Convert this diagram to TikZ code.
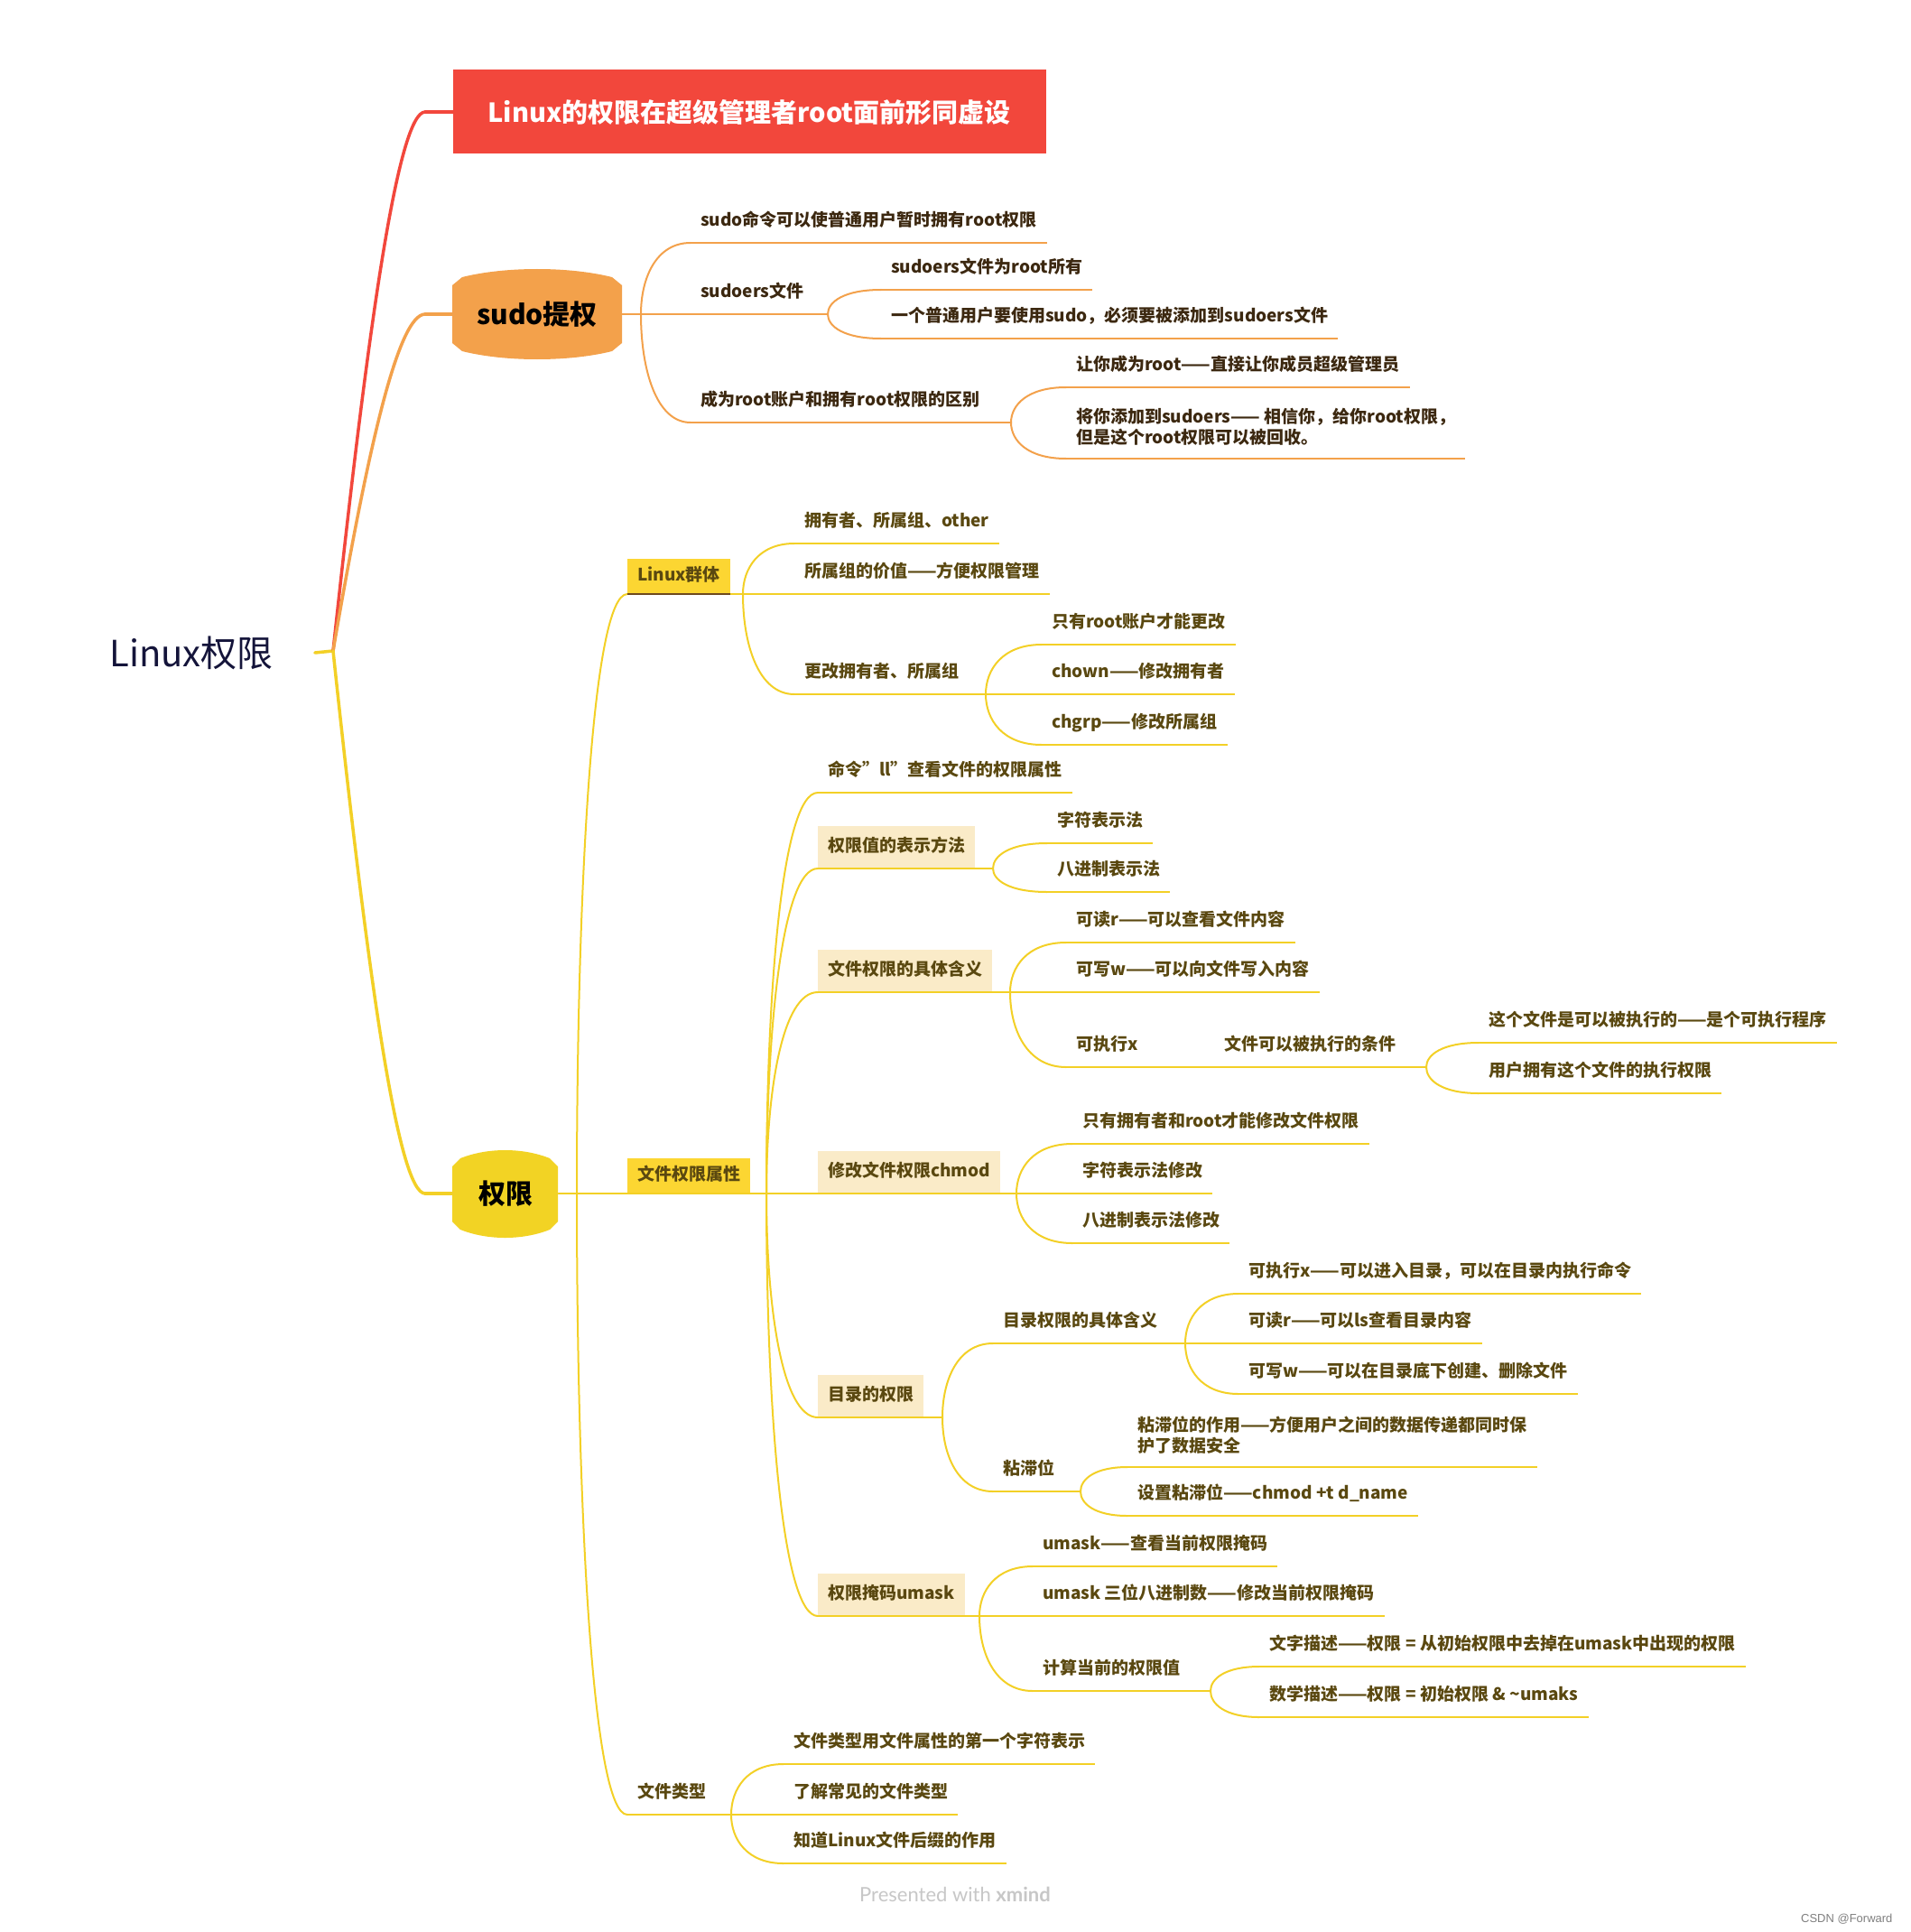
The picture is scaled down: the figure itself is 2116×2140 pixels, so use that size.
\documentclass[tikz,border=0pt]{standalone}
\usepackage{fontspec}
\setmainfont{Noto Sans CJK SC}
\newfontfamily\latofont{Lato}
\newfontfamily\arialfont{Liberation Sans}
\usetikzlibrary{calc,positioning}

\definecolor{redbranch}{HTML}{F2473C}
\definecolor{orangebranch}{HTML}{F3A14B}
\definecolor{yellowbranch}{HTML}{F3D026}
\definecolor{permyellow}{HTML}{F2D324}
\definecolor{tagyellow}{HTML}{FCD632}
\definecolor{hilite}{HTML}{FAEBC8}
\definecolor{olivetext}{HTML}{5A4810}
\definecolor{browntext}{HTML}{3C2810}
\definecolor{brownline}{HTML}{6E4A1E}
\definecolor{rootnavy}{HTML}{14143A}

% soft curve from a fork point to the start of a child's underline
\newcommand\twig[3]{%
  \draw[#1] (#2) .. controls ($(#2)!0.5!(#2 |- #3)$) and ($(#2 |- #3)!0.3!(#3)$) .. (#3);}
% long, nearly straight trunk that bends in at the end
\newcommand\limb[3]{%
  \draw[#1] (#2) .. controls ($(#2)!0.6!([xshift=-38pt]#3)$) and ([xshift=-30pt]#3) .. (#3);}

\begin{document}
\begin{tikzpicture}[
    x=1pt, y=-1pt,
    item/.style={anchor=south west, inner xsep=11pt, inner ysep=14pt, text height=15pt, text depth=4pt,
        font=\fontsize{19}{23}\selectfont\bfseries, text=olivetext},
    oitem/.style={item, text=browntext},
    twoline/.style={text height={}, text depth={}, align=left},
    hl/.style={item, fill=hilite},
    tag/.style={item, inner ysep=10pt, fill=tagyellow},
    topic/.style={inner sep=0pt, font=\fontsize{30}{36}\selectfont\bfseries, text=black},
    conn/.style={line width=2pt, line cap=round},
    uline/.style={line width=2.6pt},
    trunk/.style={line width=3.5pt, line cap=round}
]
\useasboundingbox (0,0) rectangle (2116,2140);
\fill[white] (0,0) rectangle (2116,2140);

% centre and main topics
\node[font=\fontsize{40}{46}\selectfont, text=rootnavy, inner xsep=46pt] (root) at (212,723) {Linux权限};
\coordinate (hub) at (369,721);
\node[fill=redbranch, text=white, font=\fontsize{29}{34}\selectfont\bfseries,
      minimum width=657pt, minimum height=93pt] (motto) at (830,124) {Linux的权限在超级管理者root面前形同虚设};
\fill[orangebranch] (501,316) -- (512,307) .. controls (560,295) and (630,295) .. (678,307) -- (689,316)
   -- (689,380) -- (678,389) .. controls (630,401) and (560,401) .. (512,389) -- (501,380) -- cycle;
\node[topic, minimum width=188pt, minimum height=96pt] (sudo) at (595,348) {sudo提权};
\fill[permyellow] (501,1292) -- (510,1283) .. controls (540,1271) and (579,1271) .. (609,1283) -- (618,1292)
   -- (618,1353) -- (609,1362) .. controls (579,1374) and (540,1374) .. (510,1362) -- (501,1353) -- cycle;
\node[topic, minimum width=117pt, minimum height=93pt] (perm) at (560,1322) {权限};

% sudo branch
\node[oitem] (sudocmd) at (765,269) {sudo命令可以使普通用户暂时拥有root权限};
\node[oitem] (sudoers) at (765,348) {sudoers文件};
\node[oitem] (rootdiff) at (765,468) {成为root账户和拥有root权限的区别};
\node[oitem] (sudoersowner) at (976,321) {sudoers文件为root所有};
\node[oitem] (sudoersjoin) at (976,375) {一个普通用户要使用sudo，必须要被添加到sudoers文件};
\node[oitem] (becomeroot) at (1181,429) {让你成为root——直接让你成员超级管理员};
\node[oitem, twoline] (addsudoers) at (1181,508) {将你添加到sudoers—— 相信你，给你root权限，\\但是这个root权限可以被回收。};

% permission branch
\node[tag] (group) at (695,658) {Linux群体};
\node[item] (grouproles) at (880,602) {拥有者、所属组、other};
\node[item] (groupvalue) at (880,658) {所属组的价值——方便权限管理};
\node[item] (chowngrp) at (880,769) {更改拥有者、所属组};
\node[item] (onlyroot) at (1154,714) {只有root账户才能更改};
\node[item] (chown) at (1154,769) {chown——修改拥有者};
\node[item] (chgrp) at (1154,825) {chgrp——修改所属组};

\node[tag] (attrs) at (695,1322) {文件权限属性};
\node[item] (llcmd) at (906,878) {命令"ll"查看文件的权限属性};
\node[hl] (notation) at (906,962) {权限值的表示方法};
\node[item] (symbolic) at (1160,934) {字符表示法};
\node[item] (octal) at (1160,988) {八进制表示法};
\node[hl] (meaning) at (906,1099) {文件权限的具体含义};
\node[item] (readbit) at (1181,1044) {可读r——可以查看文件内容};
\node[item] (writebit) at (1181,1099) {可写w——可以向文件写入内容};
\node[item] (execbit) at (1181,1182) {可执行x};
\node[item] (execcond) at (1345,1182) {文件可以被执行的条件};
\node[item] (execprog) at (1638,1155) {这个文件是可以被执行的——是个可执行程序};
\node[item] (execright) at (1638,1211) {用户拥有这个文件的执行权限};
\node[hl] (chmod) at (906,1322) {修改文件权限chmod};
\node[item] (chmodwho) at (1188,1267) {只有拥有者和root才能修改文件权限};
\node[item] (chmodsym) at (1188,1322) {字符表示法修改};
\node[item] (chmodoct) at (1188,1377) {八进制表示法修改};
\node[hl] (dirperm) at (906,1570) {目录的权限};
\node[item] (dirmeaning) at (1100,1488) {目录权限的具体含义};
\node[item] (dirx) at (1372,1433) {可执行x——可以进入目录，可以在目录内执行命令};
\node[item] (dirr) at (1372,1488) {可读r——可以ls查看目录内容};
\node[item] (dirw) at (1372,1544) {可写w——可以在目录底下创建、删除文件};
\node[item] (sticky) at (1100,1652) {粘滞位};
\node[item, twoline] (stickyuse) at (1249,1625) {粘滞位的作用——方便用户之间的数据传递都同时保\\护了数据安全};
\node[item] (stickyset) at (1249,1679) {设置粘滞位——chmod +t d\_name};
\node[hl] (umask) at (906,1790) {权限掩码umask};
\node[item] (umaskview) at (1144,1735) {umask——查看当前权限掩码};
\node[item] (umaskset) at (1144,1790) {umask 三位八进制数——修改当前权限掩码};
\node[item] (umaskcalc) at (1144,1873) {计算当前的权限值};
\node[item] (calctext) at (1395,1846) {文字描述——权限 = 从初始权限中去掉在umask中出现的权限};
\node[item] (calcmath) at (1395,1902) {数学描述——权限 = 初始权限 \& \textasciitilde umaks};

\node[item] (ftype) at (695,2010) {文件类型};
\node[item] (ftypechar) at (868,1954) {文件类型用文件属性的第一个字符表示};
\node[item] (ftypeknow) at (868,2010) {了解常见的文件类型};
\node[item] (ftypesuffix) at (868,2064) {知道Linux文件后缀的作用};

% fork points
\coordinate (motto-in) at (471,124);
\coordinate (sudo-in) at (471,348);
\coordinate (perm-in) at (471,1322);
\coordinate (sudo-fork) at (710,348);
\coordinate (sudoers-fork) at (917,348);
\coordinate (rootdiff-fork) at (1120,468);
\coordinate (perm-fork) at (639,1322);
\coordinate (group-fork) at (823,658);
\coordinate (chowngrp-fork) at (1092,769);
\coordinate (attrs-fork) at (849,1322);
\coordinate (notation-fork) at (1100,962);
\coordinate (meaning-fork) at (1119,1099);
\coordinate (execcond-fork) at (1580,1182);
\coordinate (chmod-fork) at (1126,1322);
\coordinate (dirperm-fork) at (1044,1570);
\coordinate (dirmeaning-fork) at (1313,1488);
\coordinate (sticky-fork) at (1197,1652);
\coordinate (umask-fork) at (1085,1790);
\coordinate (umaskcalc-fork) at (1341,1873);
\coordinate (ftype-fork) at (810,2010);

% trunks
\draw[trunk, yellowbranch] (root.east) -- (hub);
\limb{trunk, redbranch}{hub}{motto-in}
\draw[trunk, redbranch] (motto-in) -- (motto.west);
\limb{trunk, orangebranch}{hub}{sudo-in}
\draw[trunk, orangebranch] (sudo-in) -- (sudo.west);
\limb{trunk, yellowbranch}{hub}{perm-in}
\draw[trunk, yellowbranch] (perm-in) -- (perm.west);

% orange connectors
\draw[conn, orangebranch] (sudo.east) -- (sudo-fork);
\foreach \p/\c in {sudo-fork/sudocmd, sudo-fork/sudoers, sudo-fork/rootdiff,
                   sudoers-fork/sudoersowner, sudoers-fork/sudoersjoin,
                   rootdiff-fork/becomeroot, rootdiff-fork/addsudoers}
  {\twig{conn, orangebranch}{\p}{\c.south west}}
\foreach \n in {sudoers, rootdiff}
  \draw[conn, orangebranch] (\n.south east) -- (\n-fork);
\foreach \n in {sudocmd, sudoers, rootdiff, sudoersowner, sudoersjoin, becomeroot, addsudoers}
  \draw[uline, orangebranch] (\n.south west) -- (\n.south east);

% yellow connectors
\draw[conn, yellowbranch] (perm.east) -- (perm-fork);
\foreach \p/\c in {perm-fork/group, perm-fork/attrs, perm-fork/ftype,
                   group-fork/grouproles, group-fork/groupvalue, group-fork/chowngrp,
                   chowngrp-fork/onlyroot, chowngrp-fork/chown, chowngrp-fork/chgrp,
                   attrs-fork/llcmd, attrs-fork/notation, attrs-fork/meaning, attrs-fork/chmod,
                   attrs-fork/dirperm, attrs-fork/umask,
                   notation-fork/symbolic, notation-fork/octal,
                   meaning-fork/readbit, meaning-fork/writebit, meaning-fork/execbit,
                   execcond-fork/execprog, execcond-fork/execright,
                   chmod-fork/chmodwho, chmod-fork/chmodsym, chmod-fork/chmodoct,
                   dirperm-fork/dirmeaning, dirperm-fork/sticky,
                   dirmeaning-fork/dirx, dirmeaning-fork/dirr, dirmeaning-fork/dirw,
                   sticky-fork/stickyuse, sticky-fork/stickyset,
                   umask-fork/umaskview, umask-fork/umaskset, umask-fork/umaskcalc,
                   umaskcalc-fork/calctext, umaskcalc-fork/calcmath,
                   ftype-fork/ftypechar, ftype-fork/ftypeknow, ftype-fork/ftypesuffix}
  {\twig{conn, yellowbranch}{\p}{\c.south west}}
\foreach \n in {group, chowngrp, attrs, notation, meaning, execcond, chmod, dirperm,
                dirmeaning, sticky, umask, umaskcalc, ftype}
  \draw[conn, yellowbranch] (\n.south east) -- (\n-fork);
\draw[conn, yellowbranch] (execbit.south east) -- (execcond.south west);
\foreach \n in {attrs, grouproles, groupvalue, chowngrp, onlyroot, chown, chgrp,
                llcmd, notation, symbolic, octal, meaning, readbit, writebit, execbit,
                execcond, execprog, execright, chmod, chmodwho, chmodsym, chmodoct,
                dirperm, dirmeaning, dirx, dirr, dirw, sticky, stickyuse, stickyset,
                umask, umaskview, umaskset, umaskcalc, calctext, calcmath,
                ftype, ftypechar, ftypeknow, ftypesuffix}
  \draw[uline, yellowbranch] (\n.south west) -- (\n.south east);
\draw[uline, brownline] (group.south west) -- (group.south east);

% footer
\node[font=\latofont\fontsize{22}{26}\selectfont, text=black!22] (brand) at (1058,2098) {Presented with \textbf{xmind}};
\node[font=\arialfont\fontsize{13}{16}\selectfont, text=black!50, anchor=east] (credit) at (2100,2126) {CSDN @Forward};
\end{tikzpicture}
\end{document}
